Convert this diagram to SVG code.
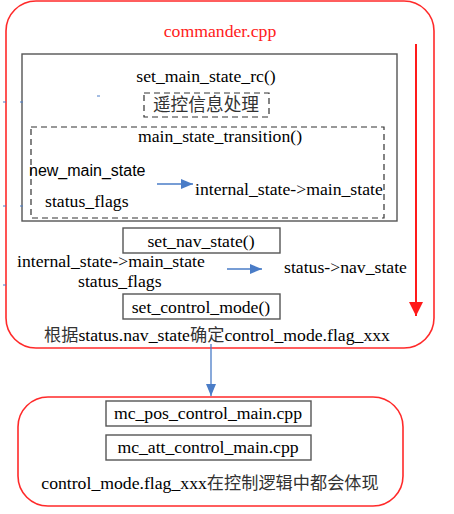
<svg xmlns="http://www.w3.org/2000/svg" width="454" height="514" viewBox="0 0 454 514">
<defs>
<style>
.t{font-family:'Liberation Serif',serif;font-size:17.7px;fill:#000}
.cjk{font-family:'Noto Sans CJK SC','Noto Sans CJK JP',sans-serif;fill:#333;font-size:17.2px}
.s{font-family:'Liberation Sans',sans-serif;font-size:16px;fill:#000}
.red{fill:none;stroke:#ff2a2a;stroke-width:1.6}
.box{fill:#fff;stroke:#555;stroke-width:1.4}
.dash{fill:none;stroke:#333;stroke-width:1.2;stroke-dasharray:6 4}
.blue{stroke:#4a7cc7;stroke-width:1.3;fill:none}
</style>
<marker id="ab" markerWidth="12" markerHeight="10" refX="12" refY="5" orient="auto" markerUnits="userSpaceOnUse"><path d="M0,0 L12,5 L0,10 Z" fill="#4a7cc7"/></marker>
<marker id="ar" markerWidth="14" markerHeight="14" refX="14" refY="7" orient="auto" markerUnits="userSpaceOnUse"><path d="M0,0 L14,7 L0,14 Z" fill="#ff1a1a"/></marker>
</defs>
<rect width="454" height="514" fill="#fff"/>
<g id="commander">
<rect class="red" x="6" y="1" width="428" height="347" rx="30"/>
<text x="220" y="37" text-anchor="middle" class="t" style="fill:#ff2020">commander.cpp</text>
</g>
<g id="set_main_state_rc">
<rect class="box" x="22" y="54" width="375" height="167"/>
<text x="206" y="82" text-anchor="middle" class="t">set_main_state_rc()</text>
</g>
<g id="rc_process">
<rect class="dash" x="144" y="93" width="125" height="24"/>
<text x="206" y="111" text-anchor="middle" class="t"><tspan class="cjk" style="font-size:17.7px">遥控信息处理</tspan></text>
</g>
<g id="main_state_transition">
<rect class="dash" x="31" y="127" width="353" height="91"/>
<text x="220" y="142" text-anchor="middle" class="t">main_state_transition()</text>
<text x="29" y="176" class="s">new_main_state</text>
<text x="45" y="207" class="t">status_flags</text>
<text x="195" y="195" class="t">internal_state-&gt;main_state</text>
</g>
<g id="set_nav_state">
<rect class="box" x="123" y="228" width="157" height="25"/>
<text x="201" y="247" text-anchor="middle" class="t">set_nav_state()</text>
<text x="17" y="267" class="t">internal_state-&gt;main_state</text>
<text x="78" y="287" class="t">status_flags</text>
<text x="284" y="273" class="t">status-&gt;nav_state</text>
</g>
<g id="set_control_mode">
<rect class="box" x="123" y="294" width="157" height="25"/>
<text x="201" y="313" text-anchor="middle" class="t">set_control_mode()</text>
<text x="217" y="341" text-anchor="middle" class="t"><tspan class="cjk">根据</tspan>status.nav_state<tspan class="cjk">确定</tspan>control_mode.flag_xxx</text>
</g>
<g id="controllers">
<rect class="red" x="18" y="397" width="385" height="109" rx="30"/>
<rect class="box" x="106" y="401" width="205" height="25"/>
<text x="208" y="419" text-anchor="middle" class="t">mc_pos_control_main.cpp</text>
<rect class="box" x="106" y="435" width="205" height="25"/>
<text x="208" y="453" text-anchor="middle" class="t">mc_att_control_main.cpp</text>
<text x="210" y="489" text-anchor="middle" class="t">control_mode.flag_xxx<tspan class="cjk">在控制逻辑中都会体现</tspan></text>
</g>
<g id="connectors">
<line x1="416" y1="44" x2="416" y2="316" stroke="#ff1a1a" stroke-width="2" marker-end="url(#ar)"/>
<line class="blue" x1="157" y1="184" x2="193" y2="184" marker-end="url(#ab)"/>
<line class="blue" x1="227" y1="269" x2="262" y2="269" marker-end="url(#ab)"/>
<line class="blue" x1="211" y1="344" x2="211" y2="396" marker-end="url(#ab)"/>
</g>
<g id="ticks" stroke="#4a7cc7" stroke-width="1">
<line x1="3" y1="102" x2="6" y2="102"/>
<line x1="20" y1="102" x2="23" y2="102"/>
<line x1="97" y1="96" x2="100" y2="96"/>
<line x1="3" y1="206" x2="6" y2="206"/>
<line x1="20" y1="206" x2="23" y2="206"/>
<line x1="3" y1="285" x2="6" y2="285"/>
</g>
</svg>
